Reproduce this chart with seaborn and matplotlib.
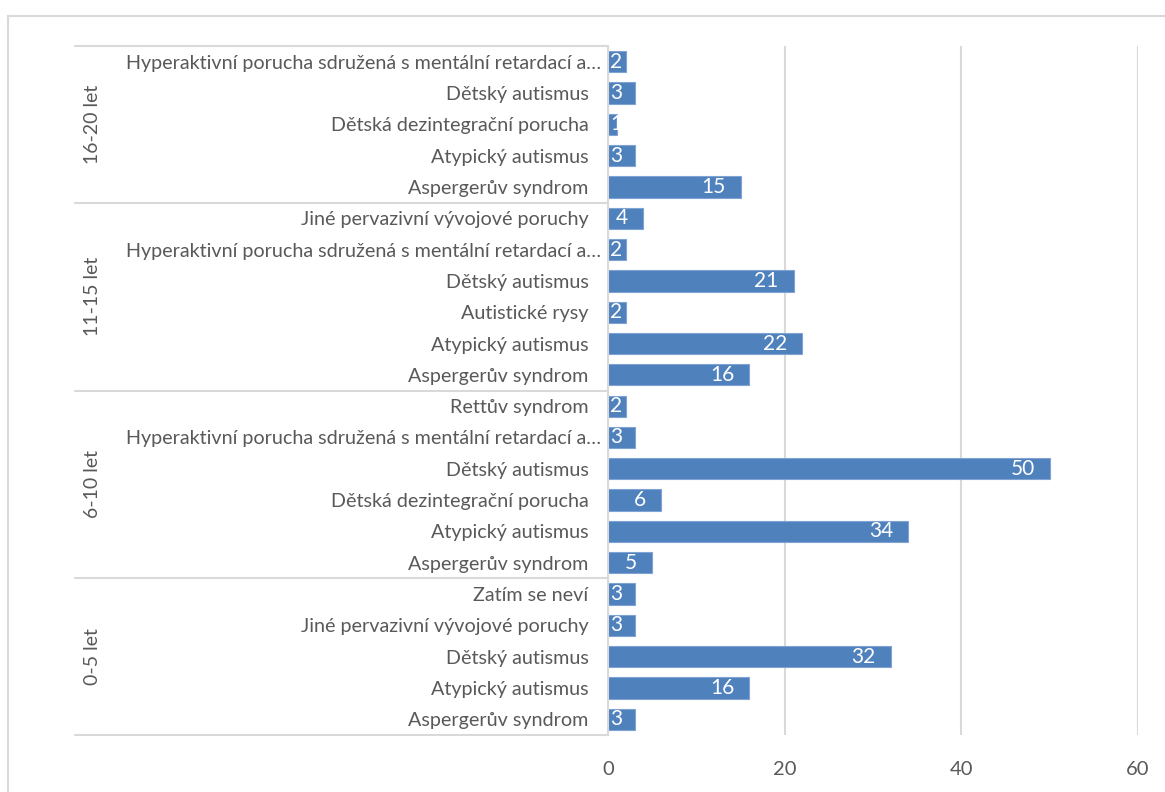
import matplotlib
matplotlib.use("Agg")
import matplotlib.pyplot as plt
import matplotlib.transforms as mtransforms
from matplotlib.lines import Line2D
import seaborn as sns
import pandas as pd

# ---- data (top to bottom as displayed) ----
groups = ["16-20 let", "11-15 let", "6-10 let", "0-5 let"]
labels_16_20 = ["Hyperaktivní porucha sdružená s mentální retardací a…", "Dětský autismus",
                "Dětská dezintegrační porucha", "Atypický autismus", "Aspergerův syndrom"]
values_16_20 = [2, 3, 1, 3, 15]
labels_11_15 = ["Jiné pervazivní vývojové poruchy", "Hyperaktivní porucha sdružená s mentální retardací a…",
                "Dětský autismus", "Autistické rysy", "Atypický autismus", "Aspergerův syndrom"]
values_11_15 = [4, 2, 21, 2, 22, 16]
labels_6_10 = ["Rettův syndrom", "Hyperaktivní porucha sdružená s mentální retardací a…",
               "Dětský autismus", "Dětská dezintegrační porucha", "Atypický autismus", "Aspergerův syndrom"]
values_6_10 = [2, 3, 50, 6, 34, 5]
labels_0_5 = ["Zatím se neví", "Jiné pervazivní vývojové poruchy", "Dětský autismus",
              "Atypický autismus", "Aspergerův syndrom"]
values_0_5 = [3, 3, 32, 16, 3]
x_ticks = [0, 20, 40, 60]

group_labels = [labels_16_20, labels_11_15, labels_6_10, labels_0_5]
group_values = [values_16_20, values_11_15, values_6_10, values_0_5]

rows = []
for g, labs, vals in zip(groups, group_labels, group_values):
    for l, v in zip(labs, vals):
        rows.append({"group": g, "label": l, "key": f"{g}|{l}", "value": v})
df = pd.DataFrame(rows)

# ---- style ----
sns.set_style("white")
plt.rcParams["font.family"] = ["Lato", "DejaVu Sans"]
TXT = "#595959"
GRID = "#D9D9D9"
BAR = "#4F81BD"

W, H = 1165, 792
fig = plt.figure(figsize=(W / 100, H / 100), dpi=100)
ax = fig.add_axes([608 / W, 1 - 735 / H, (1138 - 608) / W, (735 - 46) / H])

sns.barplot(data=df, y="key", x="value", order=list(df["key"]), orient="h",
            color=BAR, saturation=1, width=0.68, edgecolor="#7FA3D3", linewidth=0.8, ax=ax)

ax.set_xlim(0, 60)
ax.set_xticks(x_ticks)
ax.set_xticklabels([str(t) for t in x_ticks], color=TXT, fontsize=14.5)
ax.set_yticks(range(len(df)))
ax.set_yticklabels(df["label"], color=TXT, fontsize=14.2)
ax.tick_params(axis="y", length=0, pad=14)
ax.tick_params(axis="x", length=0, pad=19)
ax.set_xlabel("")
ax.set_ylabel("")
ax.set_ylim(len(df) - 0.5, -0.5)

# truncated labels sit a little further right (as in the original)
shift = mtransforms.ScaledTranslation(13 / 100, 0, fig.dpi_scale_trans)
for t in ax.get_yticklabels():
    if t.get_text().endswith("…"):
        t.set_transform(t.get_transform() + shift)

for s in ["top", "right", "bottom"]:
    ax.spines[s].set_visible(False)
ax.spines["left"].set_color(GRID)
ax.spines["left"].set_linewidth(1.5)

ax.xaxis.grid(True, color=GRID, linewidth=1.5)
ax.set_axisbelow(True)

# ---- value labels ----
px_per_unit = (1138 - 608) / 60
for i, v in enumerate(df["value"]):
    txt = str(v)
    tw = 10.5 * len(txt)
    right_px = v * px_per_unit - 16
    if right_px - tw < 3:
        off = mtransforms.offset_copy(ax.transData, fig=fig, x=2 * 0.72, y=0, units="points")
        ax.text(0, i, txt, transform=off, ha="left", va="center", color="white", fontsize=15)
    else:
        off = mtransforms.offset_copy(ax.transData, fig=fig, x=-15 * 0.72, y=0, units="points")
        ax.text(v, i, txt, transform=off, ha="right", va="center", color="white", fontsize=15)

# ---- group separators and group labels ----
blend = mtransforms.blended_transform_factory(ax.transAxes, ax.transData)
left_frac = (75 - 608) / (1138 - 608)
label_frac = (92 - 608) / (1138 - 608)
start = 0
bounds = [-0.5]
for g, labs in zip(groups, group_labels):
    n = len(labs)
    bounds.append(start + n - 0.5)
    ax.text(label_frac, start + (n - 1) / 2, g, transform=blend, rotation=90,
            ha="center", va="center", color=TXT, fontsize=14)
    start += n
for b in bounds:
    ax.add_line(Line2D([left_frac, 0], [b, b], transform=blend, color=GRID,
                       linewidth=1.5, clip_on=False))

# ---- outer chart border (light gray) ----
fig.add_artist(Line2D([8 / W, 1], [1 - 16 / H, 1 - 16 / H], transform=fig.transFigure,
                      color=GRID, linewidth=1.5))
fig.add_artist(Line2D([8 / W, 8 / W], [1 - 16 / H, 0], transform=fig.transFigure,
                      color=GRID, linewidth=1.5))

fig.savefig("out.png", dpi=100, facecolor="white")
